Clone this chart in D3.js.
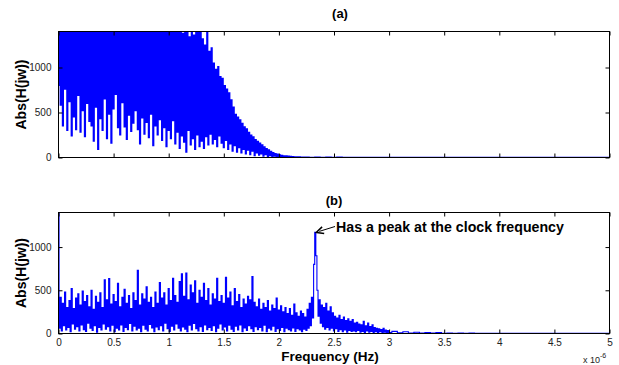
<!DOCTYPE html>
<html>
<head>
<meta charset="utf-8">
<script src="https://cdn.jsdelivr.net/npm/d3@7"></script>
<style>
  body { margin: 0; background: #fff; }
  svg { display: block; font-family: "Liberation Sans", Arial, sans-serif; }
  .tick text { fill: #222; font-size: 10px; }
</style>
</head>
<body>
<div id="chart"></div>
<script>
// frequency axis in units of 1e-6 Hz
const freqTicks = [0, 0.5, 1, 1.5, 2, 2.5, 3, 3.5, 4, 4.5, 5]
const magTicks = [0, 500, 1000]

// (a) dense part, step 0.01 starting at 0
const aStep = 0.01
const aDense = [
  800, 1800, 580, 2100, 350, 1700, 760, 2200, 300, 1900,
  620, 2300, 240, 1600, 450, 2000, 310, 1750, 690, 2400,
  280, 1850, 520, 2050, 230, 1650, 600, 2150, 400, 1950,
  350, 1700, 180, 2250, 560, 1800, 90, 2000, 430, 1600,
  300, 2100, 650, 1750, 210, 2350, 480, 1900, 160, 2050,
  540, 1700, 700, 2200, 330, 1850, 250, 2000, 610, 1650,
  340, 2300, 200, 1800, 470, 2100, 290, 1950, 380, 1700,
  520, 2150, 310, 1850, 150, 2000, 440, 1750, 260, 2250,
  390, 1900, 220, 2100, 480, 1650, 130, 2050, 350, 1800,
  250, 2200, 420, 1700, 190, 1950, 330, 2150, 120, 1850,
  300, 2000, 210, 1750, 410, 2300, 150, 1900, 280, 1650,
  100, 2100, 240, 1380, 170, 1800, 60, 1950, 300, 1340,
  140, 1700, 210, 1360, 90, 1900, 250, 1500, 120, 1450,
  180, 1320, 100, 1250, 230, 1390, 140, 1180, 260, 1220,
  150, 1050, 200, 980, 120, 1010, 240, 900, 160, 880,
  110, 800, 190, 760, 90, 720, 150, 640, 70, 560,
  130, 480, 60, 450, 110, 420, 50, 380, 90, 340,
  40, 320, 80, 280, 30, 250, 70, 230, 20, 200,
  50, 180, 25, 160, 40, 140, 15, 120, 30, 100,
  12, 85, 20, 70, 10, 55, 15, 45, 8, 38,
  10, 30, 6, 25, 9, 20, 5, 18, 7, 15,
  5, 12, 4, 10, 6, 9, 3, 8, 5, 7,
  4
]
// (a) tail, step 0.05 starting at 2.25
const aTailStart = 2.25
const aTailStep = 0.05
const aTail = [
  6, 3, 5, 3, 4, 2, 4, 3, 3, 2,
  3, 2, 3, 2, 2, 2, 2, 2, 2, 2,
  2, 2, 2, 2, 2, 2, 2, 2, 2, 2,
  2, 2, 2, 2, 2, 2, 2, 2, 2, 2,
  2, 2, 2, 2, 2, 2, 2, 2, 2, 2,
  2, 2, 2, 2, 2, 2
]

// (b) dense part, step 0.01 starting at 0
const bStep = 0.01
const bDense = [
  1450, 60, 420, 30, 350, 90, 480, 40, 300, 70,
  380, 20, 520, 110, 290, 50, 410, 80, 460, 30,
  330, 100, 490, 45, 370, 25, 440, 120, 310, 60,
  500, 35, 280, 90, 430, 15, 360, 70, 470, 40,
  300, 110, 620, 50, 390, 80, 635, 30, 340, 95,
  450, 20, 370, 60, 580, 40, 310, 100, 420, 25,
  510, 70, 350, 45, 440, 115, 290, 30, 470, 85,
  380, 40, 730, 60, 330, 20, 460, 95, 400, 50,
  540, 30, 360, 105, 420, 65, 300, 20, 480, 75,
  350, 45, 590, 90, 410, 30, 470, 120, 330, 55,
  520, 25, 380, 85, 640, 40, 440, 110, 360, 60,
  600, 30, 690, 75, 430, 50, 700, 20, 390, 95,
  560, 40, 470, 115, 610, 55, 350, 30, 500, 80,
  420, 25, 580, 100, 380, 45, 520, 70, 330, 35,
  460, 90, 400, 20, 640, 60, 370, 110, 440, 40,
  350, 75, 650, 30, 410, 95, 480, 50, 320, 25,
  520, 85, 370, 40, 450, 100, 300, 20, 400, 65,
  340, 35, 430, 90, 390, 55, 660, 25, 360, 80,
  310, 45, 400, 70, 280, 30, 350, 95, 300, 20,
  380, 60, 260, 40, 330, 85, 290, 25, 410, 55,
  270, 35, 320, 70, 250, 20, 300, 60, 230, 45,
  290, 30, 210, 65, 340, 25, 240, 55, 200, 40,
  260, 20, 230, 50, 190, 35, 280, 60, 350, 90,
  420, 180, 800, 1170, 900, 500, 200, 390, 120, 330,
  80, 300, 50, 350, 70, 260, 40, 310, 60, 240,
  30, 200, 55, 180, 25, 210, 45, 160, 20, 190,
  40, 150, 15, 170, 35, 140, 25, 160, 30, 120,
  20, 130, 35, 110, 15, 100, 25, 140, 10, 90,
  30, 120, 15, 80, 25, 100, 10, 70, 20, 60,
  12, 55, 20, 45, 8, 60, 15, 40, 10, 35,
  12
]
// (b) tail, step 0.05 starting at 3.05
const bTailStart = 3.05
const bTailStep = 0.05
const bTail = [
  25, 8, 20, 6, 15, 5, 12, 4, 10, 3,
  6, 3, 5, 2, 4, 2, 3, 2, 3, 2,
  2, 2, 2, 2, 2, 2, 2, 2, 2, 2,
  2, 2, 2, 2, 2, 2, 2, 2, 2, 2
]

const width = 619, height = 365
const left = 58.5, right = 609.5
const panels = [
  { id: 'a', title: '(a)', top: 31.5, bottom: 157.5, titleX: 340, titleY: 18, xLabels: false,
    dense: aDense, step: aStep, tail: aTail, tailStart: aTailStart, tailStep: aTailStep },
  { id: 'b', title: '(b)', top: 212.5, bottom: 333.5, titleX: 334, titleY: 205, xLabels: true,
    dense: bDense, step: bStep, tail: bTail, tailStart: bTailStart, tailStep: bTailStep }
]

const svg = d3.select('#chart').append('svg')
  .attr('width', width)
  .attr('height', height)

const x = d3.scaleLinear().domain([0, 5]).range([left, right])

panels.forEach(p => {
  const y = d3.scaleLinear().domain([0, 1400]).range([p.bottom, p.top])
  const pts = p.dense.map((v, i) => [i * p.step, v])
    .concat(p.tail.map((v, i) => [p.tailStart + i * p.tailStep, v]))

  svg.append('clipPath').attr('id', 'clip-' + p.id)
    .append('rect')
    .attr('x', left).attr('y', p.top)
    .attr('width', right - left).attr('height', p.bottom - p.top)

  // step curve so each sample becomes a near-vertical stroke, like a dense spectrum
  const line = d3.line().curve(d3.curveStep).x(d => x(d[0])).y(d => y(d[1]))
  svg.append('path')
    .datum(pts)
    .attr('clip-path', 'url(#clip-' + p.id + ')')
    .attr('d', line)
    .attr('fill', 'none')
    .attr('stroke', '#0000ff')
    .attr('stroke-width', 1.1)

  // ticks on all four sides, pointing inwards
  const bottomAxis = d3.axisBottom(x).tickValues(freqTicks).tickSize(-4).tickPadding(5)
    .tickFormat(p.xLabels ? d3.format('') : '')
  const topAxis = d3.axisTop(x).tickValues(freqTicks).tickSize(-4).tickFormat('')
  const leftAxis = d3.axisLeft(y).tickValues(magTicks).tickSize(-4).tickPadding(7)
    .tickFormat(d3.format('d'))
  const rightAxis = d3.axisRight(y).tickValues(magTicks).tickSize(-4).tickFormat('')

  svg.append('g').attr('transform', 'translate(0,' + p.bottom + ')').call(bottomAxis)
  svg.append('g').attr('transform', 'translate(0,' + p.top + ')').call(topAxis)
  svg.append('g').attr('transform', 'translate(' + left + ',0)').call(leftAxis)
  svg.append('g').attr('transform', 'translate(' + right + ',0)').call(rightAxis)
  svg.selectAll('.domain').remove()
  svg.selectAll('.tick line').attr('stroke', '#000')

  svg.append('rect')
    .attr('x', left).attr('y', p.top)
    .attr('width', right - left).attr('height', p.bottom - p.top)
    .attr('fill', 'none').attr('stroke', '#000').attr('stroke-width', 1)

  svg.append('text')
    .attr('x', p.titleX).attr('y', p.titleY)
    .attr('text-anchor', 'middle')
    .attr('font-size', 13).attr('font-weight', 'bold')
    .text(p.title)

  svg.append('text')
    .attr('transform', 'translate(26,' + ((p.top + p.bottom) / 2) + ') rotate(-90)')
    .attr('text-anchor', 'middle')
    .attr('font-size', 14).attr('font-weight', 'bold')
    .text('Abs(H(jw))')

  if (p.id === 'b') {
    // annotation at the clock peak
    const peakI = bDense.indexOf(d3.max(bDense.slice(100)))
    const tipX = x(peakI * bStep) + 1, tipY = y(bDense[peakI])
    const startX = 335, startY = 226.5
    svg.append('line')
      .attr('x1', startX).attr('y1', startY).attr('x2', tipX + 3).attr('y2', tipY - 1)
      .attr('stroke', '#000').attr('stroke-width', 1)
    const ang = Math.atan2(startY - tipY, startX - tipX)
    const hl = 8, hw = 0.45
    svg.append('path')
      .attr('d', 'M' + (tipX + hl * Math.cos(ang - hw)) + ',' + (tipY + hl * Math.sin(ang - hw)) +
        'L' + tipX + ',' + tipY +
        'L' + (tipX + hl * Math.cos(ang + hw)) + ',' + (tipY + hl * Math.sin(ang + hw)))
      .attr('fill', 'none').attr('stroke', '#000').attr('stroke-width', 1.5)
    svg.append('text')
      .attr('x', 336).attr('y', 231.5)
      .attr('font-size', 14.2).attr('font-weight', 'bold')
      .text('Has a peak at the clock frequency')
  }
})

svg.append('text')
  .attr('x', 330).attr('y', 361)
  .attr('text-anchor', 'middle')
  .attr('font-size', 13.5).attr('font-weight', 'bold')
  .text('Frequency (Hz)')

const mult = svg.append('text')
  .attr('x', 583).attr('y', 363)
  .attr('font-size', 9).attr('fill', '#222')
mult.append('tspan').text('x 10')
mult.append('tspan').attr('dy', -5).attr('font-size', 7).text('-6')
</script>
</body>
</html>
